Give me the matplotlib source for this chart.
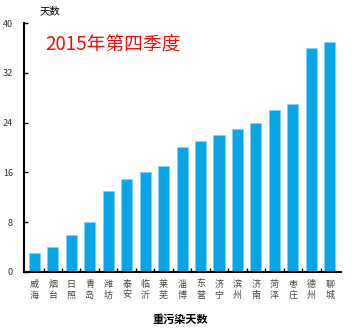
import numpy as np
import matplotlib.pyplot as plt

plt.rcParams['font.family'] = ['Noto Sans CJK SC', 'DejaVu Sans']

cities = ['威海', '烟台', '日照', '青岛', '潍坊', '泰安', '临沂', '莱芜', '淄博',
          '东营', '济宁', '滨州', '济南', '菏泽', '枣庄', '德州', '聊城']
days = [3, 4, 6, 8, 13, 15, 16, 17, 20, 21, 22, 23, 24, 26, 27, 36, 37]
yticks = [0, 8, 16, 24, 32, 40]

fig = plt.figure(figsize=(3.6, 3.34), dpi=100)
ax = fig.add_axes([0.067, 0.186, 0.88, 0.745])

x = np.arange(len(cities))
ax.bar(x, days, width=0.6, color='#0aa5e6', edgecolor='#7fd3f5', linewidth=0.6)

ax.set_xlim(-0.55, len(cities) - 0.4)
ax.set_ylim(0, 40)
ax.set_yticks(yticks)
ax.set_yticklabels([str(t) for t in yticks], fontsize=6.5, color='#333333')
ax.set_xticks(x)
ax.set_xticklabels(['\n'.join(c) for c in cities], fontsize=6.5, color='#444444',
                   linespacing=1.2)
ax.set_xticks(x[:-1] + 0.5, minor=True)
ax.tick_params(axis='x', which='major', length=0, pad=6)
ax.tick_params(axis='x', which='minor', length=3, direction='in', width=1)
ax.tick_params(axis='y', length=3, direction='in', width=1, pad=8)

for s in ['top', 'right']:
    ax.spines[s].set_visible(False)
ax.spines['left'].set_linewidth(1.5)
ax.spines['bottom'].set_linewidth(1.5)

fig.text(0.14, 0.967, '天数', fontsize=7.5, ha='center', va='center')
fig.text(0.125, 0.865, '2015年第四季度', fontsize=13.5, color='#ee1111',
         ha='left', va='center')
fig.text(0.5, 0.045, '重污染天数', fontsize=8, fontweight='bold',
         ha='center', va='center')

fig.savefig('out.png', dpi=100)
